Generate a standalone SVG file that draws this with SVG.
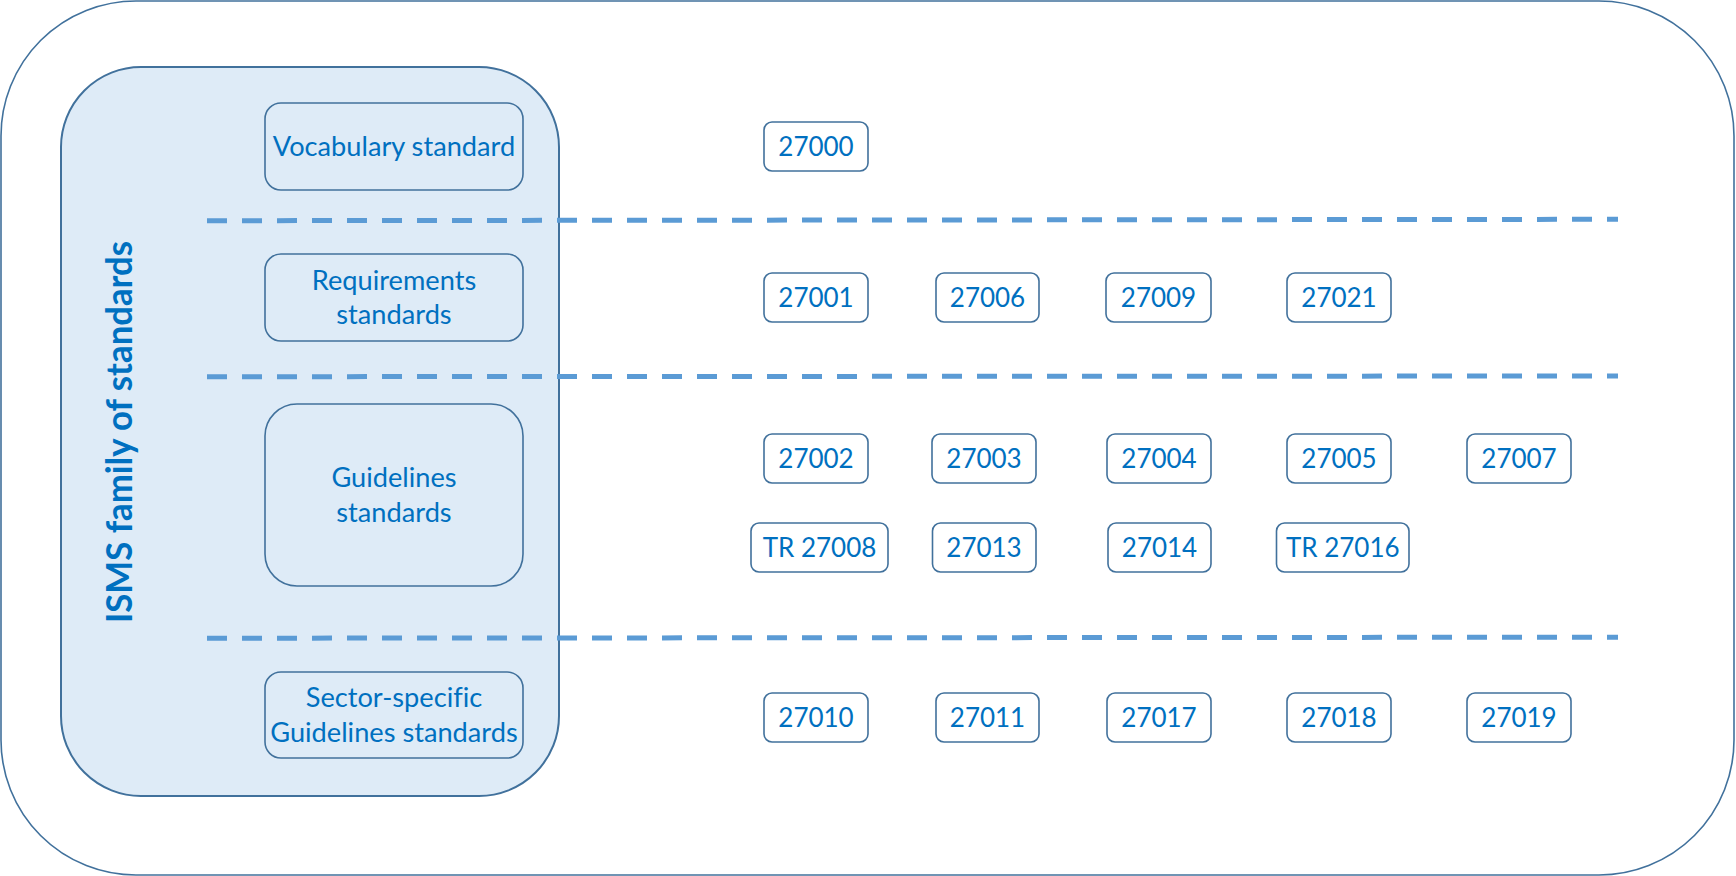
<svg xmlns="http://www.w3.org/2000/svg" width="1736" height="876" viewBox="0 0 1736 876">
<style>
.frame{fill:#fff;stroke:#41719C;stroke-width:1.6}
.inner{fill:#DEEBF7;stroke:#41719C;stroke-width:2}
.cat{fill:#DEEBF7;stroke:#41719C;stroke-width:1.6}
.num{fill:#fff;stroke:#41719C;stroke-width:1.6}
.t{font-family:Lato,"Open Sans",sans-serif;font-size:26px;fill:#0070C0;text-anchor:middle;font-variant-ligatures:none}
.c{font-size:27.2px}
.title{font-family:Lato,"Open Sans",sans-serif;font-size:36px;font-weight:bold;fill:#0070C0;text-anchor:middle}
.dash{stroke:#5B9BD5;stroke-width:5;stroke-dasharray:20 15;fill:none}
</style>
<rect class="frame" x="1" y="1" width="1733" height="874" rx="135" ry="135"/>
<g id="isms-family">
<rect class="inner" x="61" y="67" width="498" height="729" rx="80" ry="80"/>
<text class="title" transform="translate(132,432) rotate(-90)" x="0" y="0" textLength="382" lengthAdjust="spacingAndGlyphs">ISMS family of standards</text>
</g>
<g id="vocabulary">
<rect class="cat" x="265" y="103" width="258" height="87" rx="16"/>
<text class="t c" x="394" y="155.5">Vocabulary standard</text>
</g>
<g id="requirements">
<rect class="cat" x="265" y="254" width="258" height="87" rx="16"/>
<text class="t c" x="394" y="290">Requirements</text>
<text class="t c" x="394" y="324">standards</text>
</g>
<g id="guidelines">
<rect class="cat" x="265" y="404" width="258" height="182" rx="32"/>
<text class="t c" x="394" y="486.5">Guidelines</text>
<text class="t c" x="394" y="521.5">standards</text>
</g>
<g id="sector">
<rect class="cat" x="265" y="672" width="258" height="86" rx="16"/>
<text class="t c" x="394" y="707">Sector-specific</text>
<text class="t c" x="394" y="742">Guidelines standards</text>
</g>
<g id="connectors">
<line class="dash" x1="207" y1="220.7" x2="1618" y2="219.3"/>
<line class="dash" x1="207" y1="376.7" x2="1618" y2="376"/>
<line class="dash" x1="207" y1="638.2" x2="1618" y2="637.2"/>
</g>
<g id="n27000"><rect class="num" x="764" y="122" width="104" height="49" rx="8"/><text class="t" x="816" y="156">27000</text></g>
<g id="n27001"><rect class="num" x="764" y="273" width="104" height="49" rx="8"/><text class="t" x="816" y="307">27001</text></g>
<g id="n27006"><rect class="num" x="936" y="273" width="103" height="49" rx="8"/><text class="t" x="987.5" y="307">27006</text></g>
<g id="n27009"><rect class="num" x="1106" y="273" width="105" height="49" rx="8"/><text class="t" x="1158.5" y="307">27009</text></g>
<g id="n27021"><rect class="num" x="1287" y="273" width="104" height="49" rx="8"/><text class="t" x="1339" y="307">27021</text></g>
<g id="n27002"><rect class="num" x="764" y="434" width="104" height="49" rx="8"/><text class="t" x="816" y="468">27002</text></g>
<g id="n27003"><rect class="num" x="932" y="434" width="104" height="49" rx="8"/><text class="t" x="984" y="468">27003</text></g>
<g id="n27004"><rect class="num" x="1107" y="434" width="104" height="49" rx="8"/><text class="t" x="1159" y="468">27004</text></g>
<g id="n27005"><rect class="num" x="1287" y="434" width="104" height="49" rx="8"/><text class="t" x="1339" y="468">27005</text></g>
<g id="n27007"><rect class="num" x="1467" y="434" width="104" height="49" rx="8"/><text class="t" x="1519" y="468">27007</text></g>
<g id="nTR27008"><rect class="num" x="751" y="523" width="137" height="49" rx="8"/><text class="t" x="819.5" y="557">TR 27008</text></g>
<g id="n27013"><rect class="num" x="932.5" y="523" width="103.5" height="49" rx="8"/><text class="t" x="984" y="557">27013</text></g>
<g id="n27014"><rect class="num" x="1108" y="523" width="103" height="49" rx="8"/><text class="t" x="1159.5" y="557">27014</text></g>
<g id="nTR27016"><rect class="num" x="1276.5" y="523" width="132.5" height="49" rx="8"/><text class="t" x="1342.75" y="557">TR 27016</text></g>
<g id="n27010"><rect class="num" x="764" y="693" width="104" height="49" rx="8"/><text class="t" x="816" y="727">27010</text></g>
<g id="n27011"><rect class="num" x="936" y="693" width="103" height="49" rx="8"/><text class="t" x="987.5" y="727">27011</text></g>
<g id="n27017"><rect class="num" x="1107" y="693" width="104" height="49" rx="8"/><text class="t" x="1159" y="727">27017</text></g>
<g id="n27018"><rect class="num" x="1287" y="693" width="104" height="49" rx="8"/><text class="t" x="1339" y="727">27018</text></g>
<g id="n27019"><rect class="num" x="1467" y="693" width="104" height="49" rx="8"/><text class="t" x="1519" y="727">27019</text></g>
</svg>
